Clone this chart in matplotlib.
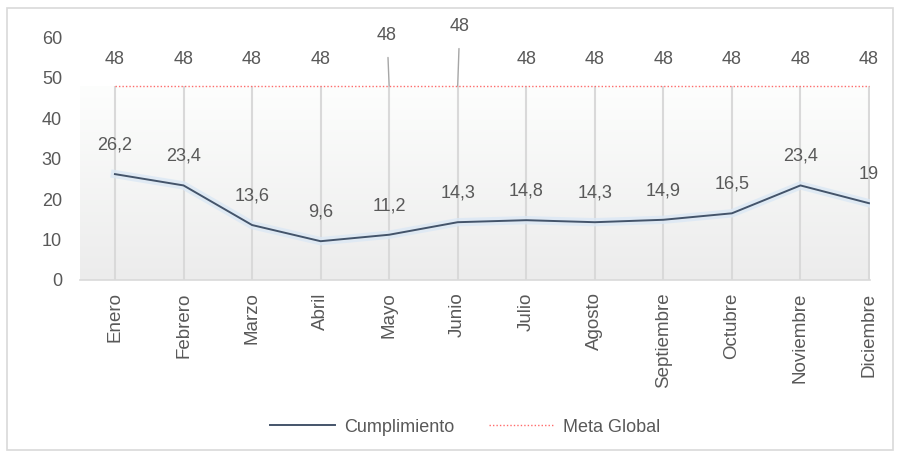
import matplotlib.pyplot as plt
import numpy as np
from matplotlib.patches import Rectangle

meses = ['Enero', 'Febrero', 'Marzo', 'Abril', 'Mayo', 'Junio', 'Julio',
         'Agosto', 'Septiembre', 'Octubre', 'Noviembre', 'Diciembre']
cumplimiento = [26.2, 23.4, 13.6, 9.6, 11.2, 14.3, 14.8, 14.3, 14.9, 16.5, 23.4, 19]
meta = [48] * 12

plt.rcParams['font.family'] = ['Liberation Sans', 'DejaVu Sans']
gris = '#595959'

fig = plt.figure(figsize=(9, 4.57), dpi=100)
fig.patches.append(Rectangle((7 / 900, 7 / 457), 886 / 900, 442 / 457,
                             transform=fig.transFigure, fill=False,
                             edgecolor='#d9d9d9', linewidth=1.2))

ax = fig.add_axes([80 / 900, (457 - 280) / 457, 790 / 900, 242.5 / 457])
x = np.arange(len(meses))
ax.set_xlim(-0.51, 11.015)
ax.set_ylim(0, 60)

# fondo degradado hasta la meta
grad = np.linspace(0, 1, 200).reshape(-1, 1)
ax.imshow(grad, cmap=plt.matplotlib.colors.LinearSegmentedColormap.from_list(
    'g', ['#ececec', '#fdfefd']), extent=(-0.51, 11.015, 0, 48),
    aspect='auto', origin='lower', zorder=0)

# lineas de caida
ax.vlines(x, 0, meta, color='#d9d9d9', linewidth=1.5, zorder=1)

ax.plot(x, cumplimiento, color='#dbe8f5', linewidth=6, alpha=0.8, zorder=2,
        solid_joinstyle='round')
ax.plot(x, cumplimiento, color='#44546a', linewidth=1.4, label='Cumplimiento', zorder=3)
ax.plot(x, meta, color='#ff6b6b', linewidth=1, linestyle=(0, (1, 1.5)),
        label='Meta Global', zorder=3)

for xi, v in zip(x, cumplimiento):
    ax.annotate(f'{v:g}'.replace('.', ','), (xi, v), xytext=(0, 21),
                textcoords='offset points', ha='center', va='center',
                fontsize=13, color=gris)

meta_pos = [54.5] * 12
meta_pos[4] = 60.6
meta_pos[5] = 62.8
for xi, v, p in zip(x, meta, meta_pos):
    if p > 58:
        ax.annotate(str(v), (xi, v), xytext=(xi - 0.03 if xi == 4 else xi + 0.03, p),
                    ha='center', va='center', fontsize=13, color=gris,
                    annotation_clip=False,
                    arrowprops=dict(arrowstyle='-', color='#a6a6a6', lw=1,
                                    shrinkA=8, shrinkB=0))
    else:
        ax.text(xi, p, str(v), ha='center', va='center', fontsize=13,
                color=gris, clip_on=False)

ax.set_xticks(x)
ax.set_xticklabels(meses, rotation=90, fontsize=13.5, color=gris)
ax.set_yticks(range(0, 61, 10))
ax.tick_params(axis='y', length=0, pad=13, labelsize=13, labelcolor=gris)
ax.tick_params(axis='x', length=0, pad=9)
for s in ['top', 'right', 'left']:
    ax.spines[s].set_visible(False)
ax.spines['bottom'].set_color('#d9d9d9')
ax.spines['bottom'].set_linewidth(1.2)
ax.set_facecolor('none')

fig.legend(loc='center', bbox_to_anchor=(0.517, (457 - 427) / 457), ncol=2,
           frameon=False, fontsize=13, labelcolor=gris, handlelength=3.6,
           columnspacing=1.9, handletextpad=0.5)

plt.savefig('out.png', dpi=100)
